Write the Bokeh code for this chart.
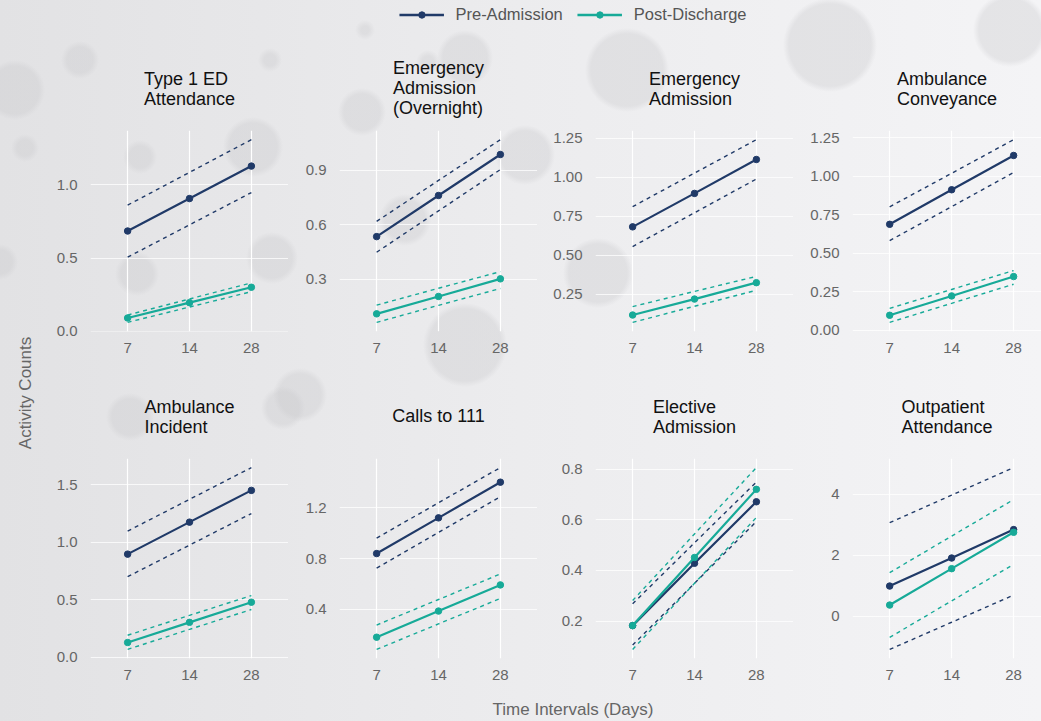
from bokeh.plotting import figure
from bokeh.layouts import column, row
from bokeh.models import Range1d, Title, Legend, LegendItem, FixedTicker, ColumnDataSource
from bokeh.embed import file_html
from bokeh.resources import INLINE

# ---------------- data ----------------
intervals = ["7", "14", "28"]
series_names = ["Pre-Admission", "Post-Discharge"]
panel_titles = [
    "Type 1 ED\nAttendance", "Emergency\nAdmission\n(Overnight)", "Emergency\nAdmission", "Ambulance\nConveyance",
    "Ambulance\nIncident", "Calls to 111", "Elective\nAdmission", "Outpatient\nAttendance",
]
# estimates, lower and upper bounds at 7, 14, 28 days
pre_est = [[0.685, 0.907, 1.129], [0.535, 0.762, 0.988], [0.682, 0.896, 1.113], [0.688, 0.913, 1.136],
           [0.897, 1.175, 1.451], [0.840, 1.121, 1.402], [0.182, 0.428, 0.671], [0.987, 1.908, 2.842]]
pre_low = [[0.506, 0.727, 0.948], [0.449, 0.677, 0.905], [0.556, 0.772, 0.988], [0.582, 0.803, 1.025],
           [0.701, 0.975, 1.250], [0.726, 1.007, 1.288], [0.105, 0.349, 0.593], [-1.095, -0.203, 0.690]]
pre_up = [[0.862, 1.086, 1.310], [0.619, 0.845, 1.070], [0.811, 1.026, 1.240], [0.802, 1.020, 1.239],
          [1.097, 1.373, 1.649], [0.962, 1.240, 1.517], [0.268, 0.509, 0.749], [3.070, 3.975, 4.880]]
post_est = [[0.090, 0.195, 0.300], [0.109, 0.205, 0.302], [0.118, 0.220, 0.325], [0.096, 0.222, 0.348],
            [0.129, 0.304, 0.479], [0.181, 0.387, 0.593], [0.182, 0.451, 0.720], [0.362, 1.559, 2.753]]
post_low = [[0.060, 0.165, 0.270], [0.062, 0.156, 0.249], [0.071, 0.174, 0.276], [0.050, 0.174, 0.298],
            [0.069, 0.243, 0.416], [0.085, 0.286, 0.486], [0.088, 0.349, 0.609], [-0.700, 0.500, 1.700]]
post_up = [[0.110, 0.220, 0.330], [0.157, 0.250, 0.342], [0.172, 0.269, 0.365], [0.141, 0.264, 0.387],
           [0.192, 0.365, 0.537], [0.277, 0.478, 0.679], [0.281, 0.544, 0.806], [1.428, 2.629, 3.830]]
y_ticks = [[0.0, 0.5, 1.0], [0.3, 0.6, 0.9], [0.25, 0.5, 0.75, 1.0, 1.25], [0.0, 0.25, 0.5, 0.75, 1.0, 1.25],
           [0.0, 0.5, 1.0, 1.5], [0.4, 0.8, 1.2], [0.2, 0.4, 0.6, 0.8], [0, 2, 4]]
y_decimals = [1, 1, 2, 2, 1, 1, 1, 0]

PRE_COL = "#203a68"
POST_COL = "#17aa98"
FONT = "Liberation Sans"
TEXT_GREY = "#666666"

col_widths = [248, 249, 256, 248]
col_left = [50, 51, 58, 59]
row_heights = [342, 327]
row_top = [102, 87]
row_bottom = 39
title_standoff = {1: 66, 2: 44, 3: 26}

xs = [1, 2, 3]

def transparent(p):
    p.background_fill_alpha = 0
    p.border_fill_alpha = 0
    p.outline_line_color = None

def make_panel(i):
    r, c = divmod(i, 4)
    lo = min(min(pre_low[i]), min(post_low[i]))
    hi = max(max(pre_up[i]), max(post_up[i]))
    pad = 0.05 * (hi - lo)
    xend = 3.6 if c < 3 else 3.45
    p = figure(width=col_widths[c], height=row_heights[r], output_backend="svg", toolbar_location=None,
               x_range=Range1d(0.4, xend), y_range=Range1d(lo - pad, hi + pad),
               min_border_left=col_left[c], min_border_right=0, min_border_top=row_top[r],
               min_border_bottom=row_bottom)
    transparent(p)
    nlines = panel_titles[i].count("\n") + 1
    t = Title(text=panel_titles[i], align="center", text_font=FONT, text_font_size="18px",
              text_font_style="normal", text_color="#111111", text_line_height=1.0,
              standoff=title_standoff[nlines])
    p.add_layout(t, "above")
    for ax in (p.xaxis[0], p.yaxis[0]):
        ax.axis_line_color = None
        ax.major_tick_line_color = None
        ax.minor_tick_line_color = None
        ax.major_label_text_font = FONT
        ax.major_label_text_font_size = "15px"
        ax.major_label_text_color = TEXT_GREY
    p.xaxis.ticker = FixedTicker(ticks=xs)
    p.xaxis.major_label_overrides = {k: v for k, v in zip(xs, intervals)}
    p.xaxis.major_label_standoff = 5
    p.yaxis.ticker = FixedTicker(ticks=y_ticks[i])
    fmt = "{:.%df}" % y_decimals[i]
    p.yaxis.major_label_overrides = {v: fmt.format(v) for v in y_ticks[i]}
    p.yaxis.major_label_standoff = 7
    p.xgrid.grid_line_color = "white"
    p.xgrid.grid_line_width = 1.2
    p.ygrid.grid_line_color = "white"
    p.ygrid.grid_line_alpha = 0.75
    p.xgrid.ticker = FixedTicker(ticks=xs)
    p.ygrid.ticker = FixedTicker(ticks=y_ticks[i])
    for est, low, up, col in ((pre_est[i], pre_low[i], pre_up[i], PRE_COL),
                              (post_est[i], post_low[i], post_up[i], POST_COL)):
        src = ColumnDataSource(dict(x=xs, est=est, low=low, up=up))
        p.line("x", "low", source=src, line_color=col, line_width=1.4, line_dash="4 4")
        p.line("x", "up", source=src, line_color=col, line_width=1.4, line_dash="4 4")
        p.line("x", "est", source=src, line_color=col, line_width=2.2)
        p.scatter("x", "est", source=src, size=6.5, fill_color=col, line_color=col)
    return p

panels = [make_panel(i) for i in range(8)]

# legend strip
leg = figure(width=1041, height=28, output_backend="svg", toolbar_location=None,
             x_range=Range1d(0, 1), y_range=Range1d(0, 1), min_border=0, min_border_left=104)
transparent(leg)
leg.axis.visible = False
leg.grid.visible = False
items = []
nan = float("nan")
for name, col in zip(series_names, [PRE_COL, POST_COL]):
    src = ColumnDataSource(dict(x=[nan], y=[nan]))
    lr = leg.line("x", "y", source=src, line_color=col, line_width=2.4)
    sr = leg.scatter("x", "y", source=src, size=6, fill_color=col, line_color=col)
    items.append(LegendItem(label=name, renderers=[lr, sr]))
legend = Legend(items=items, orientation="horizontal", location="center",
                label_text_font=FONT, label_text_font_size="16.5px", label_text_color="#555555",
                glyph_width=45, glyph_height=16, label_standoff=12, spacing=14, padding=0, margin=0,
                background_fill_alpha=0, border_line_color=None)
leg.add_layout(legend, "center")

# y axis title strip
ylab = figure(width=40, height=sum(row_heights), output_backend="svg", toolbar_location=None,
              x_range=Range1d(0, 1), y_range=Range1d(0, 1), min_border_left=34, min_border_right=0,
              min_border_top=102, min_border_bottom=42)
transparent(ylab)
ylab.axis.visible = False
ylab.grid.visible = False
ylab.add_layout(Title(text="Activity Counts", align="center", text_font=FONT, text_font_size="17px",
                      text_font_style="normal", text_color=TEXT_GREY, standoff=0), "left")

# x axis title strip
xlab = figure(width=1041, height=24, output_backend="svg", toolbar_location=None,
              x_range=Range1d(0, 1), y_range=Range1d(0, 1), min_border=0, min_border_left=100)
transparent(xlab)
xlab.axis.visible = False
xlab.grid.visible = False
xlab.add_layout(Title(text="Time Intervals (Days)", align="center", text_font=FONT, text_font_size="17px",
                      text_font_style="normal", text_color=TEXT_GREY, standoff=0), "above")

bubbles = [(15, 90, 28), (25, 148, 12), (0, 262, 16), (80, 60, 17), (140, 157, 15), (137, 274, 20),
           (272, 258, 24), (253, 147, 28), (270, 60, 10), (365, 30, 8), (428, 62, 10), (362, 112, 22),
           (465, 58, 26), (525, 155, 28), (405, 220, 24), (465, 345, 40), (598, 273, 33), (627, 70, 40),
           (830, 45, 45), (1010, 30, 35), (300, 395, 25), (130, 417, 22), (283, 408, 20)]
grads = ["radial-gradient(circle at %dpx %dpx, rgba(200,200,203,0.35) %dpx, rgba(200,200,203,0) %dpx)"
         % (bx, by, br - 4, br + 2) for bx, by, br in bubbles]
grads.append("linear-gradient(90deg, #e2e2e4 0%, #ececee 50%, #f4f4f6 100%)")

grid = column(row(*panels[:4]), row(*panels[4:]))
layout = column(leg, row(ylab, grid), xlab, styles={"background": ", ".join(grads)})

open("out.html", "w").write(file_html(layout, INLINE))
